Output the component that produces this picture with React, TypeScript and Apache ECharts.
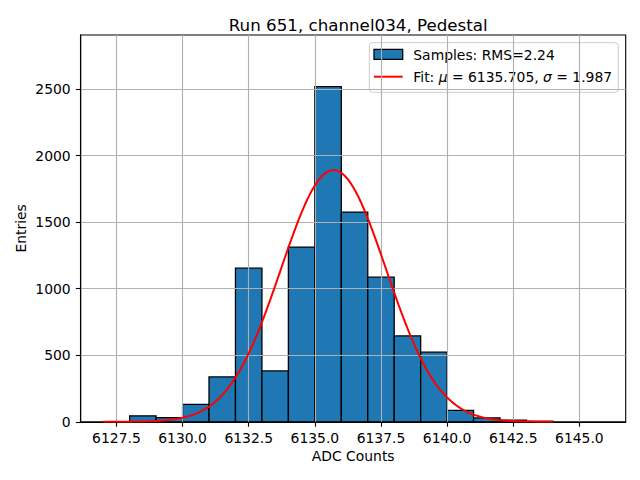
import React, { useEffect, useRef } from "react";
import * as echarts from "echarts";

const TITLE = "Run 651, channel034, Pedestal";
const X_LABEL = "ADC Counts";
const Y_LABEL = "Entries";

const BIN_STARTS = [6128, 6129, 6130, 6131, 6132, 6133, 6134, 6135, 6136, 6137, 6138, 6139, 6140, 6141, 6142, 6143];
const BIN_WIDTH = 1;
const BIN_COUNTS = [45, 31, 131, 337, 1154, 382, 1312, 2517, 1575, 1086, 645, 523, 86, 30, 12, 4];

const X_TICKS = [6127.5, 6130, 6132.5, 6135, 6137.5, 6140, 6142.5, 6145];
const Y_TICKS = [0, 500, 1000, 1500, 2000, 2500];
const X_MIN = 6126.15;
const X_MAX = 6146.75;
const Y_MAX = 2905;

const FIT_MU = 6135.705;
const FIT_SIGMA = 1.987;
const FIT_AMPLITUDE = 1890;
const FIT_RANGE = [6127, 6144];
const FIT_SAMPLES = 300;

const RMS_TEXT = "Samples: RMS=2.24";

const FONT = "DejaVu Sans";

export default function App() {
  const ref = useRef<HTMLDivElement>(null);
  useEffect(() => {
    if (!ref.current) return;
    const chart = echarts.init(ref.current, null, { renderer: "svg" });

    const histData = BIN_STARTS.map((s, i) => [s, s + BIN_WIDTH, BIN_COUNTS[i]]);
    const fitData: number[][] = [];
    for (let i = 0; i <= FIT_SAMPLES; i++) {
      const x = FIT_RANGE[0] + ((FIT_RANGE[1] - FIT_RANGE[0]) * i) / FIT_SAMPLES;
      const y = FIT_AMPLITUDE * Math.exp(-((x - FIT_MU) ** 2) / (2 * FIT_SIGMA ** 2));
      fitData.push([x, y]);
    }

    const gridLeft = 80.7;
    const gridTop = 35;
    const gridRight = 625.7;
    const gridBottom = 421.8;

    chart.setOption({
      animation: false,
      backgroundColor: "#ffffff",
      title: {
        text: TITLE,
        left: (gridLeft + gridRight) / 2,
        top: 11,
        textAlign: "center",
        textStyle: { fontFamily: FONT, fontSize: 16.7, fontWeight: "normal", color: "#000" },
      },
      grid: {
        left: gridLeft,
        top: gridTop,
        width: gridRight - gridLeft,
        height: gridBottom - gridTop,
        show: true,
        borderColor: "#000",
        borderWidth: 1.1,
        backgroundColor: "#fff",
      },
      xAxis: {
        type: "value",
        min: X_MIN,
        max: X_MAX,
        z: 3,
        name: X_LABEL,
        nameLocation: "middle",
        nameGap: 27,
        nameMoveOverlap: false,
        nameTextStyle: { fontFamily: FONT, fontSize: 13.9, color: "#000" },
        axisLine: { show: true, onZero: false, lineStyle: { color: "#000", width: 1.1 } },
        axisTick: { show: true, customValues: X_TICKS, length: 4.9, lineStyle: { color: "#000", width: 1.1 } },
        axisLabel: {
          customValues: X_TICKS,
          margin: 9.5,
          fontFamily: FONT,
          fontSize: 13.9,
          color: "#000",
          formatter: (v: number) => v.toFixed(1),
        },
        splitLine: { show: true, lineStyle: { color: "#b0b0b0", width: 1.1 } },
      },
      yAxis: {
        type: "value",
        min: 0,
        max: Y_MAX,
        z: 3,
        name: Y_LABEL,
        nameLocation: "middle",
        nameGap: 53,
        nameMoveOverlap: false,
        nameTextStyle: { fontFamily: FONT, fontSize: 13.9, color: "#000" },
        axisLine: { show: true, onZero: false, lineStyle: { color: "#000", width: 1.1 } },
        axisTick: { show: true, customValues: Y_TICKS, length: 4.9, lineStyle: { color: "#000", width: 1.1 } },
        axisLabel: {
          customValues: Y_TICKS,
          margin: 10,
          fontFamily: FONT,
          fontSize: 13.9,
          color: "#000",
          formatter: (v: number) => String(Math.round(v)),
        },
        splitLine: { show: true, lineStyle: { color: "#b0b0b0", width: 1.1 } },
      },
      series: [
        {
          type: "custom",
          name: "hist",
          z: 1,
          data: histData,
          encode: { x: [0, 1], y: 2 },
          renderItem: (params: any, api: any) => {
            const x0 = api.value(0);
            const x1 = api.value(1);
            const y = api.value(2);
            const p0 = api.coord([x0, y]);
            const p1 = api.coord([x1, 0]);
            return {
              type: "rect",
              shape: { x: p0[0], y: p0[1], width: p1[0] - p0[0], height: p1[1] - p0[1] },
              style: { fill: "#1f77b4", stroke: "#000", lineWidth: 1.3 },
            };
          },
        },
        {
          type: "line",
          name: "fit",
          z: 5,
          data: fitData,
          showSymbol: false,
          symbol: "none",
          lineStyle: { color: "#ff0000", width: 2 },
        },
      ],
      graphic: [
        {
          type: "group",
          z: 100,
          children: [
            {
              type: "rect",
              shape: { x: 369.3, y: 42.7, width: 249, height: 49.6, r: 3 },
              style: { fill: "rgba(255,255,255,0.8)", stroke: "#cccccc", lineWidth: 1 },
            },
            {
              type: "rect",
              shape: { x: 374, y: 49.3, width: 28.7, height: 10 },
              style: { fill: "#1f77b4", stroke: "#000", lineWidth: 1.3 },
            },
            {
              type: "text",
              x: 413.3,
              y: 54.5,
              style: {
                text: RMS_TEXT,
                fontFamily: FONT,
                fontSize: 13.9,
                fill: "#000",
                verticalAlign: "middle",
              },
            },
            {
              type: "line",
              shape: { x1: 374, y1: 76.7, x2: 402.7, y2: 76.7 },
              style: { stroke: "#ff0000", lineWidth: 2 },
            },
            {
              type: "text",
              x: 413.3,
              y: 77,
              style: {
                text: "Fit: {it|μ} = " + FIT_MU.toFixed(3) + ", {it|σ} = " + FIT_SIGMA.toFixed(3),
                fontFamily: FONT,
                fontSize: 13.9,
                fill: "#000",
                verticalAlign: "middle",
                rich: {
                  it: { fontStyle: "italic", fontFamily: FONT, fontSize: 13.9, fill: "#000" },
                },
              },
            },
          ],
        },
      ],
    });
    return () => chart.dispose();
  }, []);
  return (
    <div
      ref={ref}
      style={{ position: "fixed", left: 0, top: 0, width: 640, height: 480 }}
    />
  );
}
